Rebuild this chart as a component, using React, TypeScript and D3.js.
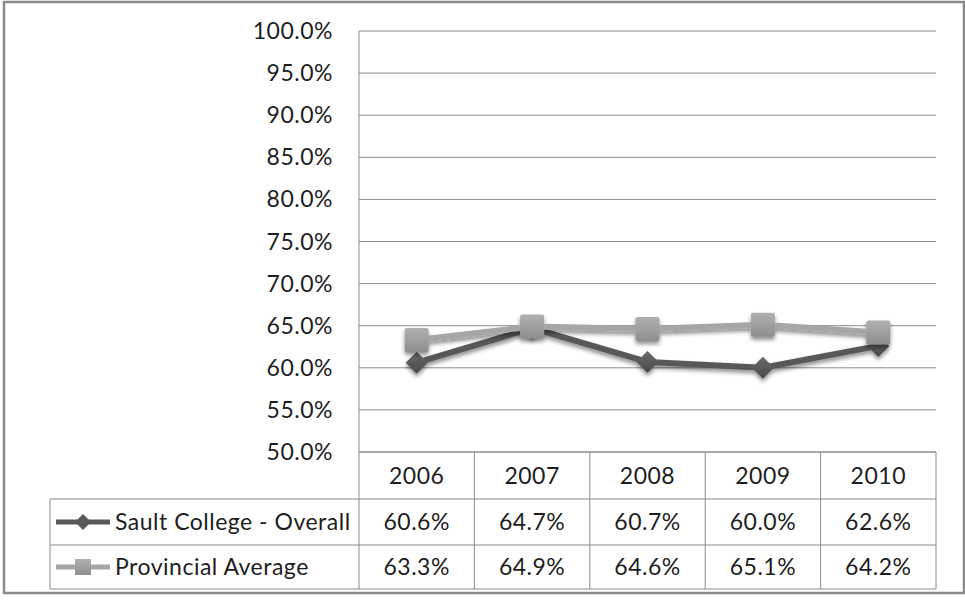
import React from "react";
import * as d3 from "d3";

const years = ["2006", "2007", "2008", "2009", "2010"];
const saultValues = [60.6, 64.7, 60.7, 60.0, 62.6];
const provincialValues = [63.3, 64.9, 64.6, 65.1, 64.2];
const seriesNames = ["Sault College - Overall", "Provincial Average"];
const yTicks = [50, 55, 60, 65, 70, 75, 80, 85, 90, 95, 100];

const W = 965;
const H = 603;
const FONT = "Lato, 'Open Sans', sans-serif";

export default function App() {
  const plotL = 359, plotR = 936, plotT = 31, plotB = 452;
  const rowB1 = 499, rowB2 = 545, rowB3 = 589, legendL = 50;
  const x = d3.scaleBand<string>().domain(years).range([plotL, plotR]);
  const y = d3.scaleLinear().domain([50, 100]).range([plotB, plotT]);
  const line = d3
    .line<number>()
    .x((_, i) => (x(years[i]) as number) + x.bandwidth() / 2)
    .y((d) => y(d));
  const fmt = (v: number) => v.toFixed(1) + "%";
  const grid = "#8c8c8c";
  const dark = "#595959";
  const light = "#a6a6a6";
  const fs = 23;
  const ls = 0.5;
  const tc = "#1e1e1e";

  const diamond = (cx: number, cy: number, r: number) =>
    `M${cx},${cy - r}L${cx + r},${cy}L${cx},${cy + r}L${cx - r},${cy}Z`;

  return (
    <svg
      width={W}
      height={H}
      style={{ position: "fixed", left: 0, top: 0, background: "#fff" }}
      fontFamily={FONT}
    >
      <defs>
        <filter id="sh" x="-50%" y="-50%" width="200%" height="200%">
          <feGaussianBlur in="SourceAlpha" stdDeviation="2" />
          <feOffset dx="0" dy="3" result="b" />
          <feComponentTransfer>
            <feFuncA type="linear" slope="0.45" />
          </feComponentTransfer>
          <feMerge>
            <feMergeNode />
            <feMergeNode in="SourceGraphic" />
          </feMerge>
        </filter>
        <linearGradient id="sq" x1="0" y1="0" x2="0" y2="1">
          <stop offset="0" stopColor="#b0b0b0" />
          <stop offset="1" stopColor="#8e8e8e" />
        </linearGradient>
        <linearGradient id="dm" x1="0" y1="0" x2="0" y2="1">
          <stop offset="0" stopColor="#6a6a6a" />
          <stop offset="1" stopColor="#4a4a4a" />
        </linearGradient>
      </defs>
      <rect x={4} y={2} width={960} height={591} fill="#fff" stroke="#8a8a8a" strokeWidth={2.5} />

      {/* gridlines */}
      {yTicks.map((t) => (
        <line key={t} x1={plotL} x2={plotR} y1={y(t)} y2={y(t)} stroke={grid} strokeWidth={1} />
      ))}
      <line x1={plotL} x2={plotL} y1={plotT} y2={plotB} stroke={grid} />
      {/* y labels */}
      {yTicks.map((t) => (
        <text key={t} x={333} y={y(t)} dy="0.35em" textAnchor="end" fontSize={fs} letterSpacing={ls} fill={tc}>
          {fmt(t)}
        </text>
      ))}

      {/* table */}
      <g stroke={grid} strokeWidth={1} fill="none">
        <line x1={plotL} x2={plotR} y1={plotB} y2={plotB} />
        <line x1={legendL} x2={plotR} y1={rowB1} y2={rowB1} />
        <line x1={legendL} x2={plotR} y1={rowB2} y2={rowB2} />
        <line x1={legendL} x2={plotR} y1={rowB3} y2={rowB3} />
        <line x1={legendL} x2={legendL} y1={rowB1} y2={rowB3} />
        {years.map((yr) => (
          <line key={yr} x1={x(yr)} x2={x(yr)} y1={plotB} y2={rowB3} />
        ))}
        <line x1={plotR} x2={plotR} y1={plotB} y2={rowB3} />
      </g>
      {years.map((yr, i) => {
        const cx = (x(yr) as number) + x.bandwidth() / 2;
        return (
          <g key={yr} fontSize={fs} letterSpacing={ls} fill={tc} textAnchor="middle">
            <text x={cx} y={(plotB + rowB1) / 2} dy="0.35em">{yr}</text>
            <text x={cx} y={(rowB1 + rowB2) / 2} dy="0.35em">{fmt(saultValues[i])}</text>
            <text x={cx} y={(rowB2 + rowB3) / 2} dy="0.35em">{fmt(provincialValues[i])}</text>
          </g>
        );
      })}

      {/* legend keys */}
      <g>
        <line x1={56} x2={110} y1={(rowB1 + rowB2) / 2} y2={(rowB1 + rowB2) / 2} stroke={dark} strokeWidth={5} />
        <path d={diamond(83, (rowB1 + rowB2) / 2, 8)} fill={dark} />
        <text x={115} y={(rowB1 + rowB2) / 2} dy="0.35em" fontSize={fs} letterSpacing={ls} fill={tc}>{seriesNames[0]}</text>
        <line x1={56} x2={110} y1={(rowB2 + rowB3) / 2} y2={(rowB2 + rowB3) / 2} stroke={light} strokeWidth={5} />
        <rect x={75} y={(rowB2 + rowB3) / 2 - 8} width={16} height={16} fill="url(#sq)" />
        <text x={115} y={(rowB2 + rowB3) / 2} dy="0.35em" fontSize={fs} letterSpacing={ls} fill={tc}>{seriesNames[1]}</text>
      </g>

      {/* series */}
      <g filter="url(#sh)">
        <path d={line(saultValues) as string} fill="none" stroke={dark} strokeWidth={6} strokeLinejoin="round" />
        {saultValues.map((v, i) => (
          <path key={i} d={diamond((x(years[i]) as number) + x.bandwidth() / 2, y(v), 11)} fill="url(#dm)" />
        ))}
      </g>
      <g filter="url(#sh)">
        <path d={line(provincialValues) as string} fill="none" stroke={light} strokeWidth={6} strokeLinejoin="round" />
        {provincialValues.map((v, i) => (
          <rect
            key={i}
            x={(x(years[i]) as number) + x.bandwidth() / 2 - 12}
            y={y(v) - 12}
            width={24}
            height={24}
            rx={2}
            fill="url(#sq)"
          />
        ))}
      </g>
    </svg>
  );
}
